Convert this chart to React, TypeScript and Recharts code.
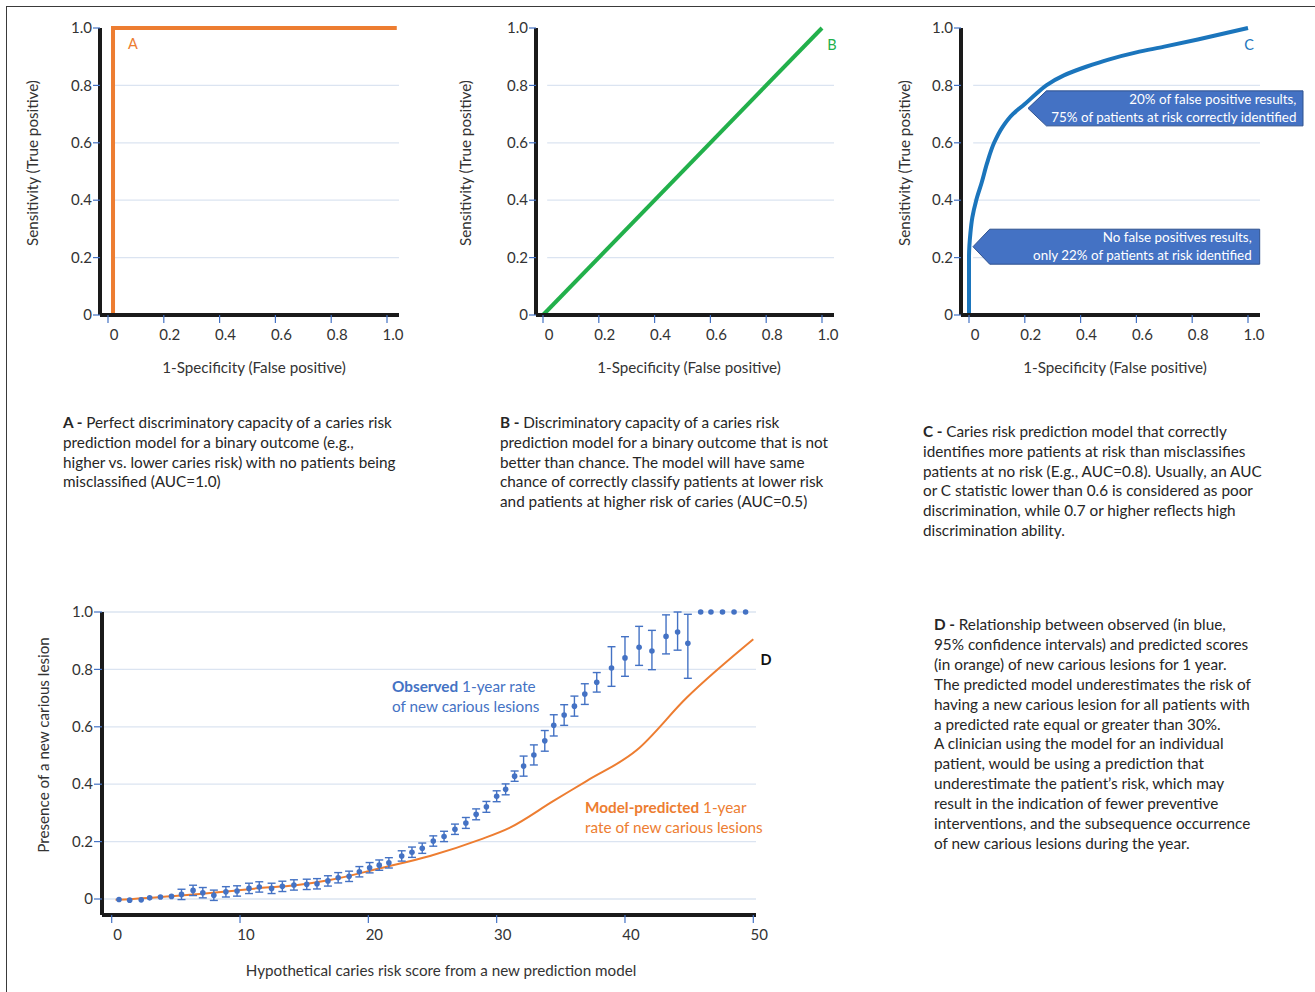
import React from 'react';
import {
  LineChart,
  ComposedChart,
  Line,
  Scatter,
  ErrorBar,
  XAxis,
  YAxis,
  CartesianGrid,
  ReferenceLine,
  ReferenceDot,
} from 'recharts';

const FONT = 'Lato, "Open Sans", sans-serif';
const INK = '#333333';
const AXIS = '#1a1a1a';
const TICK = '#4472c4';
const GRID = '#dbe4f1';
const ORANGE = '#ed7d31';
const GREEN = '#22b04b';
const BLUE_C = '#1b75bc';
const BLUE = '#4472c4';

// ROC panels (A, B, C)
const rocTicks = [0, 0.2, 0.4, 0.6, 0.8, 1.0];
const rocGridLevels = [0.2, 0.4, 0.6, 0.8];

const perfectFpr = [0.018, 0.018, 1.035];
const perfectTpr = [0, 1, 1];

const chanceFpr = [0, 1];
const chanceTpr = [0, 1];

const goodFpr = [0, 0, 0.005, 0.012, 0.026, 0.045, 0.065, 0.09, 0.12, 0.157, 0.2, 0.24, 0.277, 0.34, 0.42, 0.5, 0.6, 0.7, 0.82, 1.0];
const goodTpr = [0, 0.2, 0.285, 0.34, 0.4, 0.46, 0.53, 0.6, 0.655, 0.7, 0.735, 0.77, 0.8, 0.835, 0.865, 0.89, 0.915, 0.935, 0.96, 1.0];

// calibration panel (D)
const scoreTicks = [0, 10, 20, 30, 40, 50];
const rateTicks = [0, 0.2, 0.4, 0.6, 0.8, 1.0];

const obsScore = [
  0.57, 1.4, 2.3, 2.96, 3.8, 4.66, 5.44, 6.34, 7.1, 7.96, 8.9, 9.77, 10.7, 11.5, 12.46, 13.3, 14.2, 15.2,
  16.0, 16.85, 17.65, 18.5, 19.3, 20.1, 20.85, 21.6, 22.6, 23.4, 24.2, 25.06, 25.9, 26.75, 27.6, 28.4,
  29.2, 30.0, 30.7, 31.4, 32.1, 32.9, 33.75, 34.45, 35.26, 36.06, 36.87, 37.8, 38.95, 40.0, 41.1, 42.1,
  43.2, 44.1, 44.9,
];
const obsRate = [
  -0.002, -0.004, -0.003, 0.004, 0.007, 0.009, 0.016, 0.03, 0.022, 0.013, 0.025, 0.028, 0.037, 0.042,
  0.037, 0.044, 0.049, 0.051, 0.053, 0.063, 0.074, 0.079, 0.095, 0.109, 0.118, 0.126, 0.15, 0.163,
  0.177, 0.202, 0.218, 0.243, 0.265, 0.295, 0.321, 0.358, 0.382, 0.428, 0.463, 0.502, 0.551, 0.605,
  0.641, 0.672, 0.714, 0.755, 0.805, 0.84, 0.877, 0.864, 0.915, 0.93, 0.891,
];
const obsLow = [
  -0.002, -0.004, -0.003, 0.004, 0.007, 0.009, -0.002, 0.012, 0.004, -0.005, 0.007, 0.01, 0.019, 0.024,
  0.019, 0.026, 0.031, 0.033, 0.035, 0.045, 0.056, 0.061, 0.077, 0.091, 0.1, 0.108, 0.132, 0.145,
  0.159, 0.184, 0.2, 0.225, 0.246, 0.276, 0.302, 0.339, 0.363, 0.41, 0.428, 0.467, 0.515, 0.568,
  0.605, 0.637, 0.678, 0.721, 0.741, 0.776, 0.814, 0.799, 0.854, 0.867, 0.769,
];
const obsHigh = [
  -0.002, -0.004, -0.003, 0.004, 0.007, 0.009, 0.034, 0.048, 0.04, 0.031, 0.043, 0.046, 0.055, 0.06,
  0.055, 0.062, 0.067, 0.069, 0.071, 0.081, 0.092, 0.097, 0.113, 0.127, 0.136, 0.144, 0.168, 0.181,
  0.195, 0.22, 0.236, 0.261, 0.284, 0.314, 0.34, 0.377, 0.401, 0.446, 0.498, 0.537, 0.587, 0.642,
  0.677, 0.707, 0.75, 0.789, 0.879, 0.914, 0.95, 0.936, 0.99, 1.0, 0.992,
];
const ceilScore = [45.9, 46.7, 47.6, 48.5, 49.4];
const ceilRate = [1, 1, 1, 1, 1];

const predScore = [0.3, 4.66, 9.77, 11.5, 14.2, 17.0, 20.9, 24.8, 28.7, 31.0, 34.4, 37.0, 40.9, 44.8, 50.0];
const predRate = [-0.003, 0.01, 0.03, 0.038, 0.047, 0.066, 0.107, 0.15, 0.207, 0.248, 0.341, 0.411, 0.518, 0.701, 0.905];

const zip = (xs: number[], ys: number[]) => xs.map((x, i) => ({ x, y: ys[i] }));

const perfectData = zip(perfectFpr, perfectTpr);
const chanceData = zip(chanceFpr, chanceTpr);
const goodData = zip(goodFpr, goodTpr);

const obsAll = obsScore.map((x, i) => ({ x, y: obsRate[i], err: [obsRate[i] - obsLow[i], obsHigh[i] - obsRate[i]] }));
const obsWithBars = obsAll.filter((d) => d.err[0] > 0 || d.err[1] > 0);
const obsNoBars = [...obsAll.filter((d) => d.err[0] <= 0 && d.err[1] <= 0), ...zip(ceilScore, ceilRate)];
const predData = zip(predScore, predRate);

const fmt1 = (v: number) => (v === 0 ? '0' : v.toFixed(1));
const fmtInt = (v: number) => String(v);

const XTick = ({ x, y, payload, fmt }: any) => (
  <text x={x + 6} y={y} dy="0.75em" textAnchor="middle" fill={INK} fontSize={15} fontFamily={FONT}>
    {fmt(payload.value)}
  </text>
);

const YTick = ({ x, y, payload, fmt }: any) => (
  <text x={x} y={y} dy="0.35em" textAnchor="end" fill={INK} fontSize={15} fontFamily={FONT}>
    {fmt(payload.value)}
  </text>
);

const Callout = ({ cx, cy, neck, boxW, lines, pad }: any) => {
  const top = cy - 17.5;
  const bot = cy + 17.5;
  const x0 = cx + neck;
  const x1 = x0 + boxW;
  return (
    <g>
      <polygon
        points={`${cx},${cy} ${x0},${top} ${x1},${top} ${x1},${bot} ${x0},${bot}`}
        fill="#4472c4"
        stroke="#2f528f"
        strokeWidth={1}
      />
      <text x={x1 - pad} y={cy - 9} dy="0.35em" textAnchor="end" fill="#fff" fontSize={13.4} fontFamily={FONT}>
        {lines[0]}
      </text>
      <text x={x1 - pad} y={cy + 9} dy="0.35em" textAnchor="end" fill="#fff" fontSize={13.4} fontFamily={FONT}>
        {lines[1]}
      </text>
    </g>
  );
};

type Plot = { l: number; t: number; r: number; b: number };

const RocPanel: React.FC<{
  plot: Plot;
  zeroPx: number;
  onePx: number;
  rightPad?: number;
  data: { x: number; y: number }[];
  color: string;
  curve?: any;
  children?: React.ReactNode;
}> = ({ plot, zeroPx, onePx, rightPad = 20, data, color, curve = 'linear', children }) => {
  const unit = onePx - zeroPx;
  const xMin = -(zeroPx - plot.l) / unit;
  const xMax = (plot.r - zeroPx) / unit;
  return (
    <div style={{ position: 'absolute', left: plot.l - 60, top: plot.t - 20 }}>
      <LineChart
        width={plot.r - plot.l + 60 + rightPad}
        height={plot.b - plot.t + 60}
        margin={{ top: 20, right: rightPad, bottom: 10, left: 20 }}
      >
        <XAxis
          type="number"
          dataKey="x"
          domain={[xMin, xMax]}
          ticks={rocTicks}
          height={30}
          tickSize={8}
          tickMargin={6}
          axisLine={{ stroke: AXIS, strokeWidth: 4 }}
          tickLine={{ stroke: TICK, strokeWidth: 1.2 }}
          tick={<XTick fmt={fmt1} />}
        />
        <YAxis
          type="number"
          dataKey="y"
          domain={[0, 1]}
          ticks={rocTicks}
          width={40}
          tickSize={7}
          tickMargin={1}
          axisLine={{ stroke: AXIS, strokeWidth: 4 }}
          tickLine={{ stroke: TICK, strokeWidth: 1.2 }}
          tick={<YTick fmt={fmt1} />}
        />
        {rocGridLevels.map((v) => (
          <ReferenceLine
            key={v}
            segment={[{ x: 0.015, y: v }, { x: xMax, y: v }]}
            stroke={GRID}
            strokeWidth={1.3}
          />
        ))}
        <Line data={data} dataKey="y" type={curve} stroke={color} strokeWidth={4} dot={false} isAnimationActive={false} />
        {children}
      </LineChart>
    </div>
  );
};

const Txt: React.FC<{ x: number; y: number; style?: React.CSSProperties; children: React.ReactNode }> = ({ x, y, style, children }) => (
  <div style={{ position: 'absolute', left: x, top: y, whiteSpace: 'nowrap', fontFamily: FONT, ...style }}>{children}</div>
);

const Centered: React.FC<{ x: number; y: number; rotate?: boolean; children: React.ReactNode; style?: React.CSSProperties }> = ({
  x,
  y,
  rotate,
  children,
  style,
}) => (
  <div
    style={{
      position: 'absolute',
      left: x,
      top: y,
      transform: `translate(-50%, -50%)${rotate ? ' rotate(-90deg)' : ''}`,
      whiteSpace: 'nowrap',
      fontFamily: FONT,
      fontSize: 15.2,
      color: INK,
      lineHeight: '18px',
      ...style,
    }}
  >
    {children}
  </div>
);

const Caption: React.FC<{ x: number; y: number; tag: string; lines: string[]; lh?: number }> = ({ x, y, tag, lines, lh = 19.8 }) => (
  <Txt x={x} y={y} style={{ fontSize: 15.3, lineHeight: `${lh}px`, color: '#262626' }}>
    {lines.map((ln, i) => (
      <div key={i}>
        {i === 0 && <b>{tag} - </b>}
        {ln}
      </div>
    ))}
  </Txt>
);

const App: React.FC = () => {
  const dPlot: Plot = { l: 102, t: 612, r: 756, b: 915 };
  const dZero = 111.7;
  const dUnit = (753.3 - 111.7) / 50;
  const dXMin = -(dZero - dPlot.l) / dUnit;
  const dXMax = (dPlot.r - dZero) / dUnit;
  const dYMin = -(915 - 899) / 287;

  return (
    <div style={{ position: 'absolute', left: 0, top: 0, width: 1315, height: 992, background: '#fff', overflow: 'hidden', fontFamily: FONT }}>
      {/* frame */}
      <div style={{ position: 'absolute', left: 6, top: 6, width: 1309, height: 1, background: '#3a3a3a' }} />
      <div style={{ position: 'absolute', left: 6, top: 6, width: 1, height: 986, background: '#3a3a3a' }} />

      {/* A */}
      <RocPanel plot={{ l: 100, t: 28, r: 399, b: 315 }} zeroPx={108} onePx={387} data={perfectData} color={ORANGE} />
      <Centered x={32} y={163} rotate>Sensitivity (True positive)</Centered>
      <Centered x={254} y={367}>1-Specificity (False positive)</Centered>
      <Centered x={133} y={44} style={{ color: ORANGE, fontSize: 14.5 }}>A</Centered>

      {/* B */}
      <RocPanel plot={{ l: 536, t: 28, r: 834, b: 315 }} zeroPx={543} onePx={822} data={chanceData} color={GREEN} />
      <Centered x={465} y={163} rotate>Sensitivity (True positive)</Centered>
      <Centered x={689} y={367}>1-Specificity (False positive)</Centered>
      <Centered x={832} y={45} style={{ color: GREEN, fontSize: 14.5 }}>B</Centered>

      {/* C */}
      <RocPanel
        plot={{ l: 961, t: 28, r: 1260, b: 315 }}
        zeroPx={969}
        onePx={1248}
        rightPad={50}
        data={goodData}
        color={BLUE_C}
        curve="monotoneY"
      >
        <ReferenceDot
          x={0.2115}
          y={0.72}
          r={1}
          shape={(p: any) => (
            <Callout
              cx={p.cx}
              cy={p.cy}
              neck={18.4}
              boxW={256.6}
              pad={6.6}
              lines={['20% of false positive results,', '75% of patients at risk correctly identified']}
            />
          )}
        />
        <ReferenceDot
          x={0.0143}
          y={0.238}
          r={1}
          shape={(p: any) => (
            <Callout
              cx={p.cx}
              cy={p.cy}
              neck={16.7}
              boxW={270}
              pad={8}
              lines={['No false positives results,', 'only 22% of patients at risk identified']}
            />
          )}
        />
      </RocPanel>
      <Centered x={904} y={163} rotate>Sensitivity (True positive)</Centered>
      <Centered x={1115} y={367}>1-Specificity (False positive)</Centered>
      <Centered x={1249} y={45} style={{ color: BLUE_C, fontSize: 14.5 }}>C</Centered>

      <Caption
        x={63}
        y={413}
        tag="A"
        lines={[
          'Perfect discriminatory capacity of a caries risk',
          'prediction model for a binary outcome (e.g.,',
          'higher vs. lower caries risk) with no patients being',
          'misclassified (AUC=1.0)',
        ]}
      />
      <Caption
        x={500}
        y={413}
        tag="B"
        lines={[
          'Discriminatory capacity of a caries risk',
          'prediction model for a binary outcome that is not',
          'better than chance. The model will have same',
          'chance of correctly classify patients at lower risk',
          'and patients at higher risk of caries (AUC=0.5)',
        ]}
      />
      <Caption
        x={923}
        y={422}
        tag="C"
        lines={[
          'Caries risk prediction model that correctly',
          'identifies more patients at risk than misclassifies',
          'patients at no risk (E.g., AUC=0.8).  Usually, an AUC',
          'or C statistic lower than 0.6 is considered as poor',
          'discrimination, while 0.7 or higher reflects high',
          'discrimination ability.',
        ]}
      />

      {/* D */}
      <div style={{ position: 'absolute', left: dPlot.l - 60, top: dPlot.t - 20 }}>
        <ComposedChart
          width={dPlot.r - dPlot.l + 80}
          height={dPlot.b - dPlot.t + 60}
          margin={{ top: 20, right: 20, bottom: 10, left: 20 }}
        >
          <CartesianGrid vertical={false} stroke={GRID} strokeWidth={1.3} />
          <XAxis
            type="number"
            dataKey="x"
            domain={[dXMin, dXMax]}
            ticks={scoreTicks}
            height={30}
            tickSize={8}
            tickMargin={6}
            axisLine={{ stroke: AXIS, strokeWidth: 4 }}
            tickLine={{ stroke: TICK, strokeWidth: 1.2 }}
            tick={<XTick fmt={fmtInt} />}
          />
          <YAxis
            type="number"
            dataKey="y"
            domain={[dYMin, 1]}
            ticks={rateTicks}
            width={40}
            tickSize={8}
            tickMargin={1}
            axisLine={{ stroke: AXIS, strokeWidth: 4 }}
            tickLine={{ stroke: TICK, strokeWidth: 1.2 }}
            tick={<YTick fmt={fmt1} />}
          />
          <Line
            data={predData}
            dataKey="y"
            type="monotone"
            stroke={ORANGE}
            strokeWidth={2}
            dot={false}
            isAnimationActive={false}
          />
          <Scatter
            data={obsWithBars}
            dataKey="y"
            isAnimationActive={false}
            shape={(p: any) => <circle cx={p.cx} cy={p.cy} r={2.8} fill={BLUE} />}
          >
            <ErrorBar dataKey="err" direction="y" width={4} stroke={BLUE} strokeWidth={1.4} isAnimationActive={false} />
          </Scatter>
          <Scatter
            data={obsNoBars}
            dataKey="y"
            isAnimationActive={false}
            shape={(p: any) => <circle cx={p.cx} cy={p.cy} r={2.8} fill={BLUE} />}
          />
        </ComposedChart>
      </div>
      <Centered x={43} y={745} rotate>Presence of a new carious lesion</Centered>
      <Centered x={441} y={970}>Hypothetical caries risk score from a new prediction model</Centered>
      <Centered x={766} y={660} style={{ fontWeight: 700, color: '#111', fontSize: 14.5 }}>D</Centered>

      <Txt x={392} y={676} style={{ fontSize: 15.3, lineHeight: '20px', color: BLUE }}>
        <div>
          <b>Observed</b> 1-year rate
        </div>
        <div>of new carious lesions</div>
      </Txt>
      <Txt x={585} y={797} style={{ fontSize: 15.3, lineHeight: '20px', color: ORANGE }}>
        <div>
          <b>Model-predicted</b> 1-year
        </div>
        <div>rate of new carious lesions</div>
      </Txt>

      <Caption
        x={934}
        y={615}
        tag="D"
        lh={19.9}
        lines={[
          'Relationship between observed (in blue,',
          '95% confidence intervals) and predicted scores',
          '(in orange) of new carious lesions for 1 year.',
          'The predicted model underestimates the risk of',
          'having a new carious lesion for all patients with',
          'a predicted rate equal or greater than 30%.',
          'A clinician using the model for an individual',
          'patient, would be using a prediction that',
          'underestimate the patient\u2019s risk, which may',
          'result in the indication of fewer preventive',
          'interventions, and the subsequence occurrence',
          'of new carious lesions during the year.',
        ]}
      />
    </div>
  );
};

export default App;
